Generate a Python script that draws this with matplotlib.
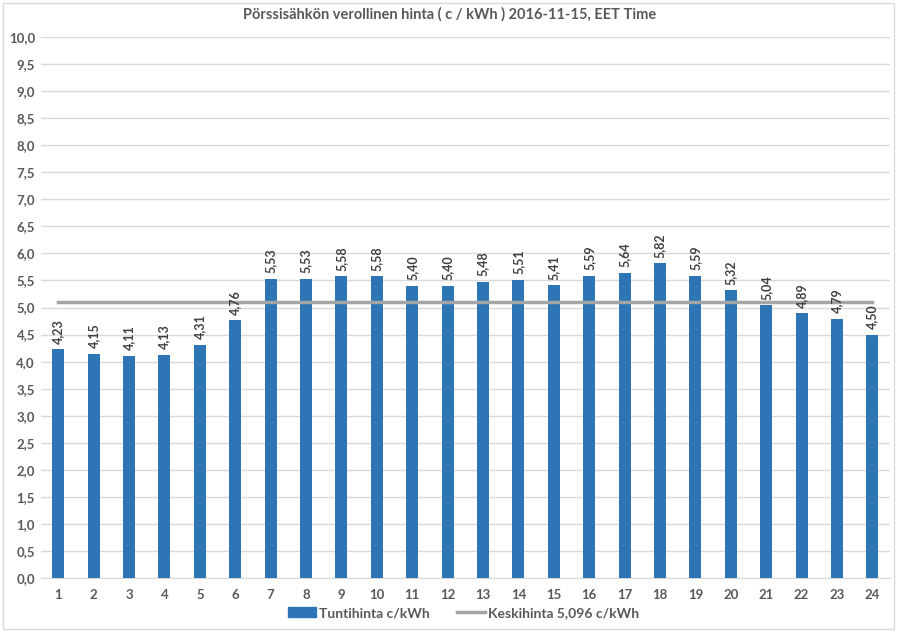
import matplotlib
matplotlib.use("Agg")
import matplotlib.pyplot as plt
from matplotlib.patches import Rectangle
from matplotlib.lines import Line2D

plt.rcParams['font.family'] = ['Lato', 'DejaVu Sans']

hours = list(range(1, 25))
prices = [4.23, 4.15, 4.11, 4.13, 4.31, 4.76, 5.53, 5.53, 5.58, 5.58, 5.40, 5.40,
          5.48, 5.51, 5.41, 5.59, 5.64, 5.82, 5.59, 5.32, 5.04, 4.89, 4.79, 4.50]
average = 5.096

bar_color = "#2E75B6"
avg_color = "#A5A5A5"
text_color = "#595959"

fig = plt.figure(figsize=(9, 6.36), dpi=100)
ax = fig.add_axes([0.045, 0.091, 0.944, 0.851])

ax.bar(hours, prices, width=0.34, color=bar_color, zorder=3, label="Tuntihinta c/kWh")
ax.plot(hours, [average] * len(hours), color=avg_color, lw=2.5, zorder=4,
        label="Keskihinta 5,096 c/kWh")

for h, p in zip(hours, prices):
    ax.text(h, p + 0.1, f"{p:.2f}".replace(".", ","), rotation=90, ha="center",
            va="bottom", fontsize=9, fontweight="bold", color="#404040", zorder=5)

ax.set_xlim(0.5, 24.5)
ax.set_ylim(0, 10)
ax.set_yticks([i * 0.5 for i in range(21)])
ax.set_yticklabels([f"{i * 0.5:.1f}".replace(".", ",") for i in range(21)])
ax.set_xticks(hours)
ax.grid(axis="y", color="#D9D9D9", lw=1, zorder=0)
ax.tick_params(length=0, labelsize=9.5, colors=text_color, labelcolor=text_color)
for lbl in ax.get_xticklabels() + ax.get_yticklabels():
    lbl.set_fontweight("bold")
ax.tick_params(axis="x", pad=8)
ax.tick_params(axis="y", pad=4)
for s in ["top", "right", "left"]:
    ax.spines[s].set_visible(False)
ax.spines["bottom"].set_color("#D9D9D9")

fig.text(0.5, 0.977, "Pörssisähkön verollinen hinta ( c / kWh ) 2016-11-15, EET Time",
         ha="center", va="center", fontsize=10.5, fontweight="bold", color=text_color)

handles = [Rectangle((0, 0), 1, 1, color=bar_color),
           Line2D([0], [0], color=avg_color, lw=2.5)]
leg = fig.legend(handles, ["Tuntihinta c/kWh", "Keskihinta 5,096 c/kWh"],
                 loc="center", bbox_to_anchor=(0.515, 0.036), ncol=2, frameon=False,
                 fontsize=10, handlelength=2.0, handletextpad=0.2, columnspacing=2.0)
for t in leg.get_texts():
    t.set_color(text_color)
    t.set_fontweight("bold")

fig.patches.append(Rectangle((0.003, 0.011), 0.990, 0.985, transform=fig.transFigure,
                             fill=False, edgecolor="#D9D9D9", lw=1))

fig.savefig("out.png", dpi=100)
